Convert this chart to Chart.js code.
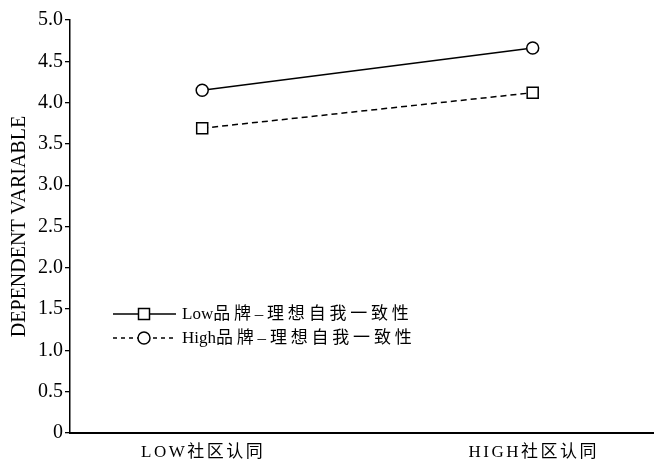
<!DOCTYPE html>
<html>
<head>
<meta charset="utf-8">
<script src="https://cdn.jsdelivr.net/npm/chart.js@4/dist/chart.umd.min.js"></script>
<style>
  html, body { margin: 0; padding: 0; background: #fff; }
  #wrap { width: 657px; height: 463px; }
</style>
</head>
<body>
<div id="wrap"><canvas id="c" width="657" height="463"></canvas></div>
<script>
// Community identification levels on the x axis
const categories = ['LOW社区认同', 'HIGH社区认同'];
// Series names (brand–ideal self congruence)
const seriesNames = ['Low品牌–理想自我一致性', 'High品牌–理想自我一致性'];
// Mean values of the dependent variable
const solidSeries = [4.15, 4.66];
const dashedSeries = [3.69, 4.12];
// Y axis tick labels
const yTickLabels = ['0', '0.5', '1.0', '1.5', '2.0', '2.5', '3.0', '3.5', '4.0', '4.5', '5.0'];

const FONT = '"Liberation Serif", "Noto Sans CJK SC", serif';

const toPoints = arr => arr.map((v, i) => ({ x: i, y: v }));

// Draw text char by char, adding extra space only after wide (CJK) glyphs
function drawSpaced(ctx, text, x, y, gap) {
  let cx = x;
  for (const ch of text) {
    ctx.fillText(ch, cx, y);
    cx += ctx.measureText(ch).width;
    if (ch.charCodeAt(0) > 0x2000) cx += gap;
  }
  return cx;
}

// Legend drawn inside the plot: line sample with a marker, then the label
const legendPlugin = {
  id: 'innerLegend',
  afterDraw(chart) {
    const ctx = chart.ctx;
    const items = [
      { text: seriesNames[0], dash: [], marker: 'rect' },
      { text: seriesNames[1], dash: [4, 4], marker: 'circle' }
    ];
    const x0 = 113, x1 = 176, xm = 144;
    const ys = [314, 338];
    ctx.save();
    items.forEach((it, i) => {
      const y = ys[i];
      ctx.strokeStyle = '#000';
      ctx.lineWidth = 1.3;
      ctx.setLineDash(it.dash);
      ctx.beginPath();
      ctx.moveTo(x0, y);
      ctx.lineTo(x1, y);
      ctx.stroke();
      ctx.setLineDash([]);
      ctx.fillStyle = '#fff';
      ctx.lineWidth = 1.5;
      if (it.marker === 'rect') {
        ctx.fillRect(xm - 5.5, y - 5.5, 11, 11);
        ctx.strokeRect(xm - 5.5, y - 5.5, 11, 11);
      } else {
        ctx.beginPath();
        ctx.arc(xm, y, 6, 0, Math.PI * 2);
        ctx.fill();
        ctx.stroke();
      }
      ctx.fillStyle = '#000';
      ctx.font = '17px ' + FONT;
      ctx.textBaseline = 'middle';
      ctx.textAlign = 'left';
      drawSpaced(ctx, it.text, 182, y + 1, 3.8);
    });
    ctx.restore();
  }
};

// Letter-spaced category labels below the x axis
const xLabelPlugin = {
  id: 'spacedXLabels',
  afterDraw(chart) {
    const ctx = chart.ctx;
    const xs = chart.scales.x;
    ctx.save();
    ctx.fillStyle = '#000';
    ctx.font = '17px ' + FONT;
    ctx.textBaseline = 'middle';
    ctx.textAlign = 'center';
    if ('letterSpacing' in ctx) ctx.letterSpacing = '2.5px';
    categories.forEach((c, i) => {
      ctx.fillText(c, xs.getPixelForValue(i) + 1, 453);
    });
    ctx.restore();
  }
};

new Chart(document.getElementById('c'), {
  type: 'line',
  data: {
    datasets: [
      {
        label: seriesNames[0],
        data: toPoints(solidSeries),
        borderColor: '#000',
        borderWidth: 1.5,
        pointStyle: 'circle',
        pointRadius: 6,
        pointBorderWidth: 1.5,
        pointBackgroundColor: '#fff',
        pointBorderColor: '#000',
        tension: 0
      },
      {
        label: seriesNames[1],
        data: toPoints(dashedSeries),
        borderColor: '#000',
        borderWidth: 1.5,
        borderDash: [6, 4],
        pointStyle: 'rect',
        pointRadius: 7.8,
        pointBorderWidth: 1.5,
        pointBackgroundColor: '#fff',
        pointBorderColor: '#000',
        tension: 0
      }
    ]
  },
  options: {
    responsive: false,
    animation: false,
    layout: { autoPadding: false, padding: { top: 20, right: 4, left: 0, bottom: 0 } },
    plugins: {
      legend: { display: false },
      tooltip: { enabled: false }
    },
    scales: {
      x: {
        type: 'linear',
        min: -0.4,
        max: 1.364,
        afterBuildTicks(scale) {
          scale.ticks = categories.map((_, i) => ({ value: i }));
        },
        afterFit(scale) {
          scale.height = 30;
          scale.paddingLeft = 0;
          scale.paddingRight = 0;
        },
        ticks: {
          display: false,
          callback: v => categories[v]
        },
        grid: { display: false },
        border: { display: true, color: '#000', width: 2 }
      },
      y: {
        min: 0,
        max: 5,
        afterBuildTicks(scale) {
          scale.ticks = yTickLabels.map(t => ({ value: parseFloat(t) }));
        },
        afterFit(scale) { scale.width = 70; },
        ticks: {
          color: '#000',
          font: { family: FONT, size: 20 },
          padding: 2,
          callback: (v, i) => yTickLabels[i]
        },
        grid: {
          drawOnChartArea: false,
          drawTicks: true,
          tickLength: 5,
          color: '#000',
          lineWidth: 1.3
        },
        border: { display: true, color: '#000', width: 1.5 },
        title: {
          display: true,
          text: 'DEPENDENT VARIABLE',
          color: '#000',
          font: { family: FONT, size: 20 },
          padding: { top: 8, bottom: 0 }
        }
      }
    }
  },
  plugins: [legendPlugin, xLabelPlugin]
});
</script>
</body>
</html>
